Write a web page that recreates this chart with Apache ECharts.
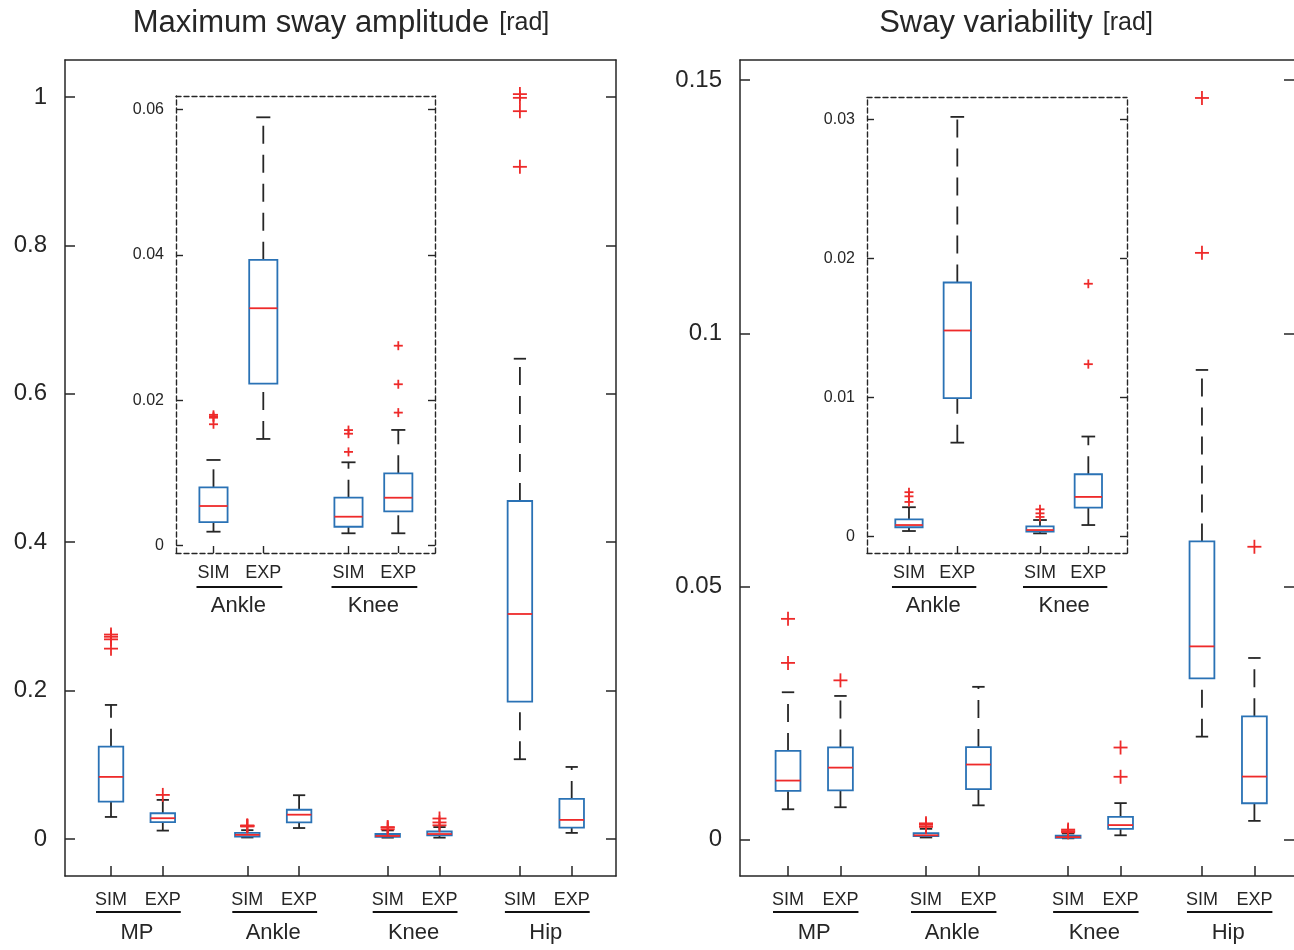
<!DOCTYPE html>
<html>
<head>
<meta charset="utf-8">
<script src="https://cdn.jsdelivr.net/npm/echarts@6/dist/echarts.min.js"></script>
<style>
  html, body { margin: 0; padding: 0; background: #ffffff; }
  #chart { width: 1294px; height: 950px; }
</style>
</head>
<body>
<div id="chart"></div>
<script>
// ---------------- DATA ----------------
const groups = ['MP', 'Ankle', 'Knee', 'Hip'];
const conditions = ['SIM', 'EXP'];
const insetGroups = ['Ankle', 'Knee'];
// box order: MP-SIM, MP-EXP, Ankle-SIM, Ankle-EXP, Knee-SIM, Knee-EXP, Hip-SIM, Hip-EXP

// Maximum sway amplitude [rad]
const ampLowerWhisker = [0.0296, 0.0112, 0.00193, 0.01468, 0.00171, 0.00171, 0.1074, 0.0081];
const ampQ1           = [0.0503, 0.0225, 0.00325, 0.0223, 0.00261, 0.00473, 0.185, 0.0152];
const ampMedian       = [0.0836, 0.0279, 0.00546, 0.03265, 0.00399, 0.0066, 0.3032, 0.0256];
const ampQ3           = [0.1244, 0.0346, 0.00803, 0.0393, 0.0066, 0.00996, 0.4555, 0.0539];
const ampUpperWhisker = [0.1806, 0.0526, 0.01179, 0.0589, 0.01147, 0.01592, 0.6473, 0.097];
const ampOutliers = [
  [0.2755, 0.2725, 0.269, 0.2565], [0.0593],
  [0.018, 0.0178, 0.0176, 0.0167], [],
  [0.0159, 0.0154, 0.0129], [0.0275, 0.0222, 0.0183],
  [1.004, 0.999, 0.981, 0.906], []
];

// Sway variability [rad]
const varLowerWhisker = [0.00598, 0.00638, 0.00041, 0.00676, 0.00024, 0.00084, 0.02033, 0.00369];
const varQ1           = [0.0096, 0.00973, 0.00068, 0.00996, 0.00036, 0.00209, 0.03184, 0.00717];
const varMedian       = [0.01165, 0.01421, 0.00084, 0.01482, 0.00048, 0.00286, 0.03816, 0.01244];
const varQ3           = [0.0175, 0.0182, 0.00125, 0.01827, 0.00075, 0.00449, 0.0589, 0.02434];
const varUpperWhisker = [0.0291, 0.02837, 0.00212, 0.03017, 0.0012, 0.0072, 0.09277, 0.03587];
const varOutliers = [
  [0.0436, 0.0349], [0.03145],
  [0.0032, 0.0029, 0.0025], [],
  [0.00197, 0.00168, 0.00142], [0.01818, 0.0124],
  [0.1465, 0.1159], [0.05784]
];

// tick labels
const ampTicks = [0, 0.2, 0.4, 0.6, 0.8, 1];
const varTicks = [0, 0.05, 0.1, 0.15];
const ampInsetTicks = [0, 0.02, 0.04, 0.06];
const varInsetTicks = [0, 0.01, 0.02, 0.03];

// ---------------- LAYOUT / STYLE ----------------
const slotPos = [1, 1.38, 2, 2.38, 3.03, 3.41, 4, 4.38];
const insetSlots = [2, 3, 4, 5];
const FONT = '"Liberation Sans", Arial, Helvetica, sans-serif';
const INK = '#262626';
const BLUE = '#2a72b5';
const RED = '#ee2a2a';

function boxData(lw, q1, med, q3, uw, idx) {
  return idx.map(i => [slotPos[i], lw[i], q1[i], med[i], q3[i], uw[i]]);
}
function outlierData(out, idx) {
  const res = [];
  idx.forEach(i => out[i].forEach(v => res.push([slotPos[i], v])));
  return res;
}
function groupData(gIdx) {
  return gIdx.map(g => [slotPos[2 * g], slotPos[2 * g + 1], g]);
}
const allSlots = [0, 1, 2, 3, 4, 5, 6, 7];

function boxRenderer(boxW, lw) {
  return function (params, api) {
    const x = api.value(0);
    const pl = api.coord([x, api.value(1)]);
    const p1 = api.coord([x, api.value(2)]);
    const pm = api.coord([x, api.value(3)]);
    const p3 = api.coord([x, api.value(4)]);
    const pu = api.coord([x, api.value(5)]);
    const half = api.size([boxW, 0])[0] / 2;
    const cap = half / 2;
    const cx = pl[0];
    const dash = [18, 11];
    return {
      type: 'group',
      children: [
        { type: 'line', shape: { x1: cx, y1: pl[1], x2: cx, y2: p1[1] }, style: { stroke: INK, lineWidth: lw, lineDash: dash } },
        { type: 'line', shape: { x1: cx, y1: p3[1], x2: cx, y2: pu[1] }, style: { stroke: INK, lineWidth: lw, lineDash: dash } },
        { type: 'line', shape: { x1: cx - cap, y1: pl[1], x2: cx + cap, y2: pl[1] }, style: { stroke: INK, lineWidth: lw } },
        { type: 'line', shape: { x1: cx - cap, y1: pu[1], x2: cx + cap, y2: pu[1] }, style: { stroke: INK, lineWidth: lw } },
        { type: 'rect', shape: { x: cx - half, y: p3[1], width: 2 * half, height: p1[1] - p3[1] }, style: { fill: 'none', stroke: BLUE, lineWidth: lw } },
        { type: 'line', shape: { x1: cx - half, y1: pm[1], x2: cx + half, y2: pm[1] }, style: { stroke: RED, lineWidth: lw } }
      ]
    };
  };
}
function plusRenderer(size, lw) {
  return function (params, api) {
    const p = api.coord([api.value(0), api.value(1)]);
    const s = size / 2;
    return {
      type: 'group',
      children: [
        { type: 'line', shape: { x1: p[0] - s, y1: p[1], x2: p[0] + s, y2: p[1] }, style: { stroke: RED, lineWidth: lw } },
        { type: 'line', shape: { x1: p[0], y1: p[1] - s, x2: p[0], y2: p[1] + s }, style: { stroke: RED, lineWidth: lw } }
      ]
    };
  };
}
function groupRenderer(yMin, lineDy, textDy, fontSize, padL, padR) {
  return function (params, api) {
    const a = api.coord([api.value(0), yMin]);
    const b = api.coord([api.value(1), yMin]);
    const y0 = a[1];
    return {
      type: 'group',
      children: [
        { type: 'line', shape: { x1: a[0] - padL, y1: y0 + lineDy, x2: b[0] + padR, y2: y0 + lineDy }, style: { stroke: '#111', lineWidth: 2 } },
        { type: 'text', x: (a[0] + b[0]) / 2, y: y0 + textDy,
          style: { text: groups[api.value(2)], fontSize: fontSize, fontFamily: FONT, fill: INK, align: 'center', verticalAlign: 'middle' } }
      ]
    };
  };
}
function condLabel(v) {
  const i = slotPos.findIndex(p => Math.abs(p - v) < 1e-6);
  return i >= 0 ? conditions[i % 2] : '';
}
function numLabel(v) { return String(+v.toFixed(4)); }

// panel definitions (right main panel runs past the page edge: its right frame line is not drawn)
const panels = [
  { grid: { left: 65, top: 60, width: 551, height: 816 }, x: [0.6625, 4.705], y: [-0.05, 1.05], ticks: ampTicks, inset: false, rightLine: true, slots: allSlots,
    data: [ampLowerWhisker, ampQ1, ampMedian, ampQ3, ampUpperWhisker], out: ampOutliers, gIdx: [0, 1, 2, 3] },
  { grid: { left: 176, top: 96, width: 259, height: 457 }, x: [1.714, 3.69], y: [-0.001, 0.06183], ticks: ampInsetTicks, inset: true, rightLine: true, slots: insetSlots,
    data: [ampLowerWhisker, ampQ1, ampMedian, ampQ3, ampUpperWhisker], out: ampOutliers, gIdx: [1, 2] },
  { grid: { left: 740, top: 60, width: 554, height: 816 }, x: [0.652, 4.667], y: [-0.0072, 0.154], ticks: varTicks, inset: false, rightLine: false, slots: allSlots,
    data: [varLowerWhisker, varQ1, varMedian, varQ3, varUpperWhisker], out: varOutliers, gIdx: [0, 1, 2, 3] },
  { grid: { left: 867, top: 97, width: 260, height: 456 }, x: [1.67, 3.714], y: [-0.00117, 0.0316], ticks: varInsetTicks, inset: true, rightLine: true, slots: insetSlots,
    data: [varLowerWhisker, varQ1, varMedian, varQ3, varUpperWhisker], out: varOutliers, gIdx: [1, 2] }
];

const grid = [], xAxis = [], yAxis = [], series = [];
panels.forEach((P, k) => {
  const ins = P.inset;
  grid.push(Object.assign({}, P.grid, { show: false, containLabel: false }));
  const frameLine = ins
    ? { show: true, onZero: false, lineStyle: { color: INK, width: 1.4, type: [5, 3] } }
    : { show: true, onZero: false, lineStyle: { color: INK, width: 1.5, type: 'solid' } };
  const rightFrame = Object.assign({}, frameLine, { show: P.rightLine });
  const tickLen = ins ? 7 : 10;
  const tickStyle = { color: INK, width: ins ? 1.4 : 1.5 };
  const xPos = P.slots.map(i => slotPos[i]);
  xAxis.push({
    type: 'value', gridIndex: k, position: 'bottom', min: P.x[0], max: P.x[1],
    axisLine: frameLine, splitLine: { show: false },
    axisTick: { show: true, inside: true, length: tickLen, lineStyle: tickStyle, customValues: xPos },
    axisLabel: { show: true, customValues: xPos, formatter: condLabel, margin: ins ? 11 : 15,
      fontSize: 18, fontFamily: FONT, color: INK }
  });
  xAxis.push({
    type: 'value', gridIndex: k, position: 'top', min: P.x[0], max: P.x[1],
    axisLine: frameLine, axisTick: { show: false }, axisLabel: { show: false }, splitLine: { show: false }
  });
  yAxis.push({
    type: 'value', gridIndex: k, position: 'left', min: P.y[0], max: P.y[1],
    axisLine: frameLine, splitLine: { show: false },
    axisTick: { show: true, inside: true, length: tickLen, lineStyle: tickStyle, customValues: P.ticks },
    axisLabel: { show: true, customValues: P.ticks, formatter: numLabel, margin: ins ? 12 : 18,
      fontSize: ins ? 16 : 24, fontFamily: FONT, color: INK }
  });
  yAxis.push({
    type: 'value', gridIndex: k, position: 'right', min: P.y[0], max: P.y[1],
    axisLine: rightFrame, splitLine: { show: false },
    axisTick: { show: true, inside: true, length: tickLen, lineStyle: tickStyle, customValues: P.ticks },
    axisLabel: { show: false }
  });
  const xi = 2 * k, yi = 2 * k;
  series.push({
    type: 'custom', name: 'box' + k, xAxisIndex: xi, yAxisIndex: yi,
    renderItem: boxRenderer(ins ? 0.215 : 0.18, 1.8),
    encode: { x: 0, y: [1, 2, 3, 4, 5] },
    data: boxData(P.data[0], P.data[1], P.data[2], P.data[3], P.data[4], P.slots),
    silent: true, z: 3
  });
  series.push({
    type: 'custom', name: 'out' + k, xAxisIndex: xi, yAxisIndex: yi,
    renderItem: plusRenderer(ins ? 9 : 14, 1.8),
    encode: { x: 0, y: 1 },
    data: outlierData(P.out, P.slots),
    silent: true, z: 4
  });
  series.push({
    type: 'custom', name: 'grp' + k, xAxisIndex: xi, yAxisIndex: yi,
    renderItem: ins ? groupRenderer(P.y[0], 34, 53, 22, 17, 19) : groupRenderer(P.y[0], 36, 57, 22, 15, 18),
    encode: { x: [0, 1] },
    data: groupData(P.gIdx),
    silent: true, clip: false, z: 4
  });
});

const titleRich = {
  m: { fontSize: 31, fontWeight: 'normal', fontFamily: FONT, color: INK, lineHeight: 36 },
  u: { fontSize: 25, fontWeight: 'normal', fontFamily: FONT, color: INK, lineHeight: 36 }
};
const chart = echarts.init(document.getElementById('chart'), null, { renderer: 'canvas' });
chart.setOption({
  animation: false,
  backgroundColor: '#ffffff',
  textStyle: { fontFamily: FONT },
  title: [
    { text: '{m|Maximum sway amplitude}  {u|[rad]}', left: 336, top: 0, textAlign: 'center',
      textStyle: { fontWeight: 'normal', rich: titleRich } },
    { text: '{m|Sway variability}  {u|[rad]}', left: 1011, top: 0, textAlign: 'center',
      textStyle: { fontWeight: 'normal', rich: titleRich } }
  ],
  grid: grid,
  xAxis: xAxis,
  yAxis: yAxis,
  series: series
});
</script>
</body>
</html>
